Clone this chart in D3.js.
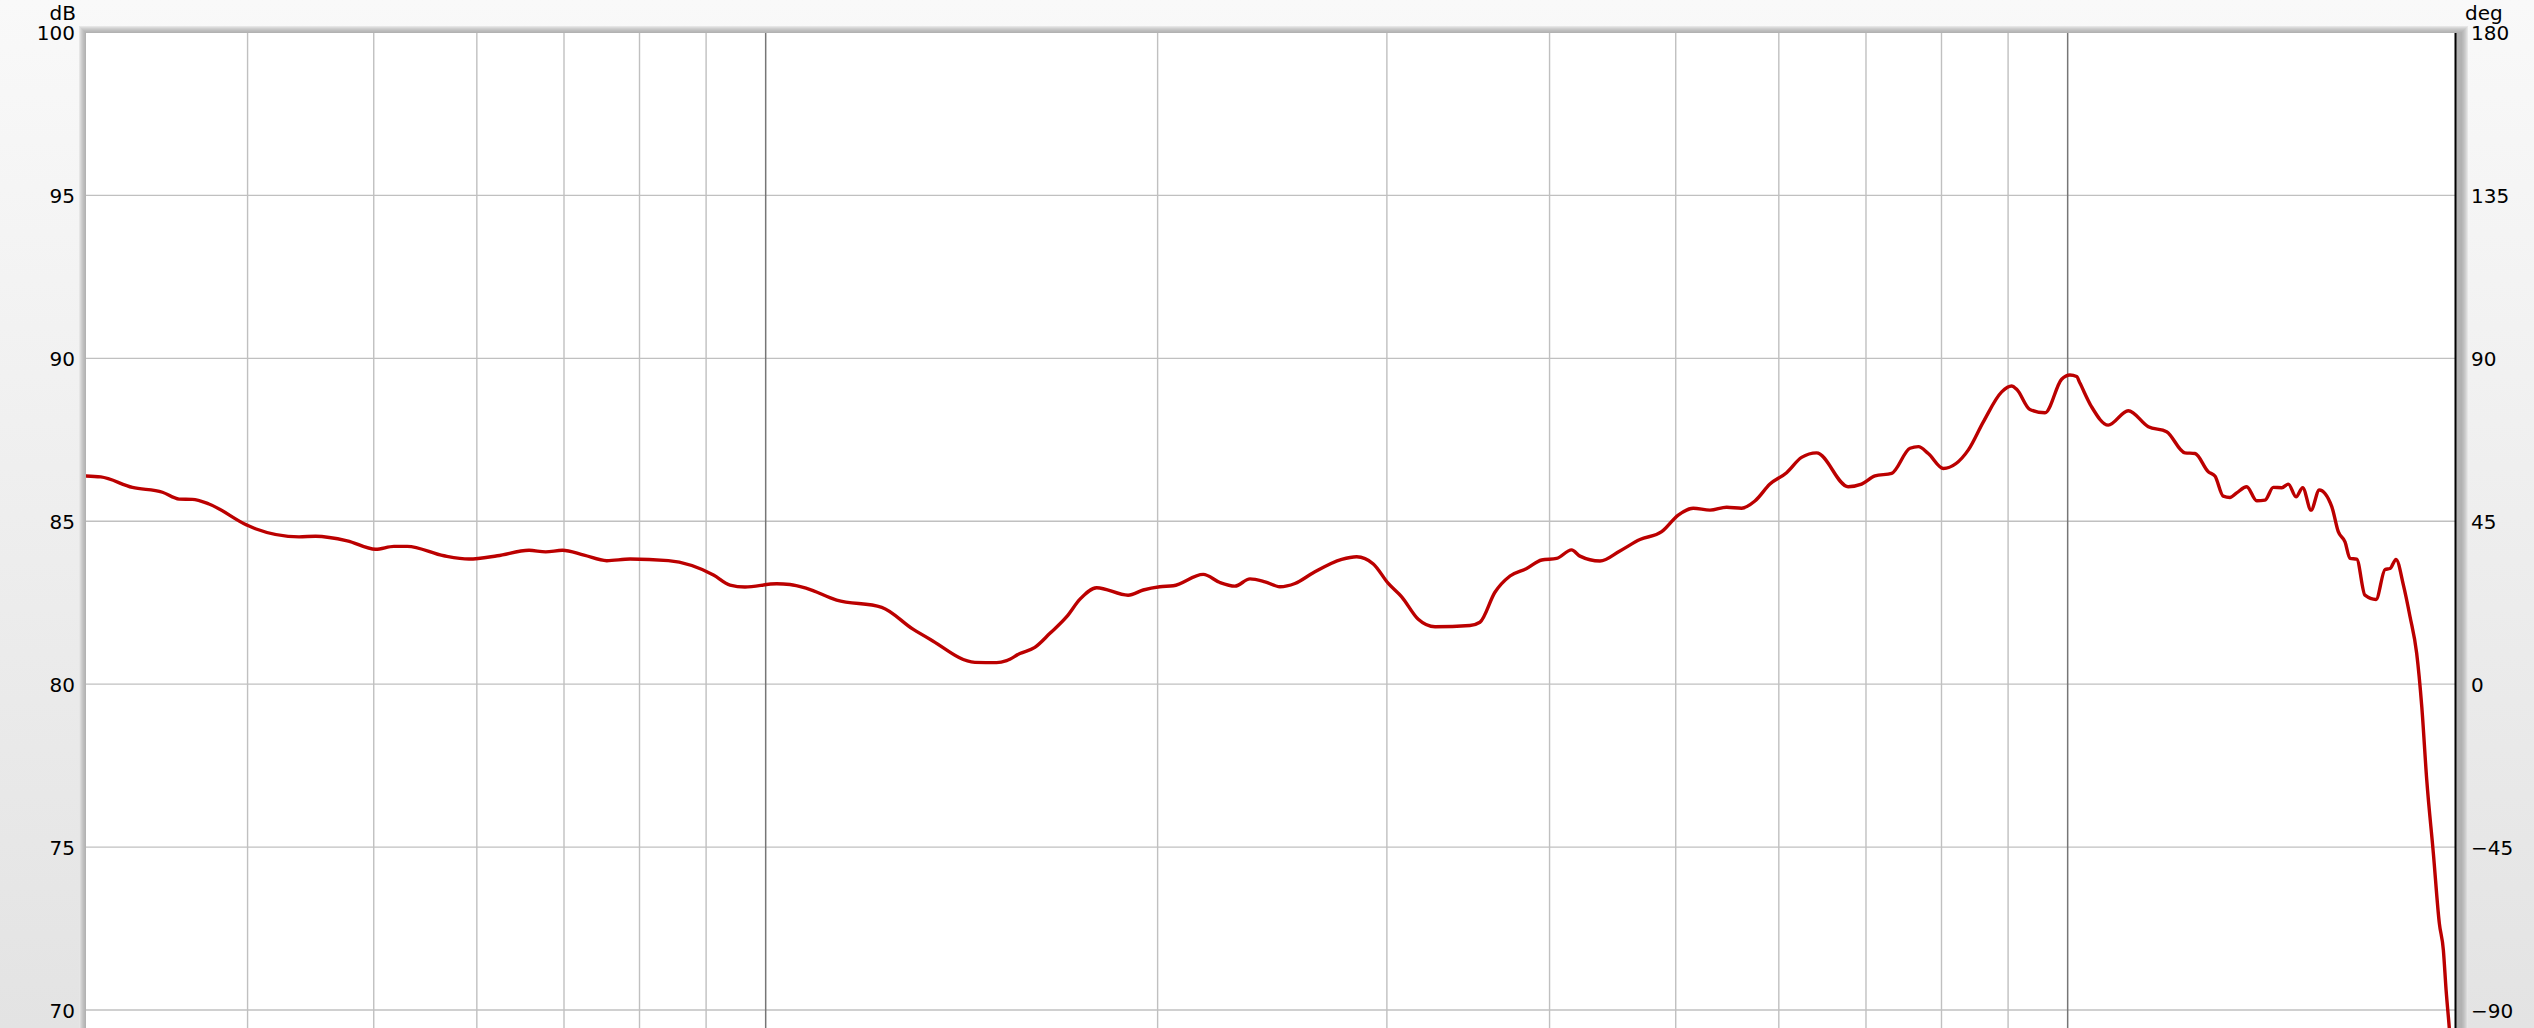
<!DOCTYPE html>
<html><head><meta charset="utf-8">
<script src="https://cdn.jsdelivr.net/npm/d3@7"></script>
<style>
html,body{margin:0;padding:0;overflow:hidden;}
svg{display:block;}
text{font-family:"DejaVu Sans",sans-serif;font-size:20px;fill:#000;}
</style></head>
<body>
<svg id="chart" width="2534" height="1028"></svg>
<script>
// ---- data ----
const freqHz = [300,308.5,326.3,344.1,354.4,362.8,373.6,399.6,405.6,438.1,451.2,477.1,501.7,518.2,530.5,566.1,591.7,622.2,658.0,677.7,698.0,725.2,
755.0,786.8,841.9,911.8,938.9,964.0,1019.6,1043.9,1075.2,1133.7,1227.8,1298.4,1337.1,1447.9,1504.3,1531.2,1567.6,1609.7,1653.2,1703.0,1743.5,
1795.7,1898.3,1949.8,2007.9,2056.1,2168.0,2233.0,2293.0,2355.0,2418.2,2483.1,2549.8,2633.8,2769.6,2843.9,2928.9,3007.5,3079.6,3171.1,3266.7,
3474.6,3536.7,3631.6,3729.9,3841.5,3944.6,4050.4,4159.1,4220.8,4373.1,4530.0,4693.5,4877.5,5022.2,5157.0,5312.5,5471.4,5618.2,5751.7,5906.5,
6083.1,6246.3,6414.1,6783.0,6945.8,7112.8,7325.4,7567.1,7679.4,7815.0,8026.6,8389.5,8614.6,8899.0,9058.1,9138.0,9354.1,9607.2,9894.0,10041,
10160,10219,10433,10744,11131,11533,11912,12305,12525,12823,12975,13167,13324,13484,13725,13971,14176,14387,14604,14773,14976,15154,15379,
15605,15953,16138,16331,16476,16672,16918,17252,17530,17685,17873,18108,18322,18538,18706,18871,19093,19296,19434,19528,19640,19735];
const splDb = [86.39,86.36,86.04,85.89,85.68,85.67,85.53,84.88,84.77,84.52,84.54,84.40,84.14,84.23,84.23,83.94,83.84,83.94,84.11,84.06,84.11,83.96,
83.79,83.84,83.79,83.35,83.04,82.98,83.08,83.06,82.94,82.58,82.36,81.68,81.38,80.67,80.66,80.72,80.94,81.13,81.56,82.07,82.61,
82.96,82.73,82.89,82.99,83.02,83.37,83.12,83.01,83.23,83.14,82.99,83.09,83.42,83.83,83.91,83.69,83.09,82.68,81.99,81.76,
81.80,81.90,82.82,83.32,83.55,83.81,83.86,84.12,83.93,83.78,84.09,84.44,84.68,85.19,85.40,85.34,85.43,85.40,85.62,86.14,
86.49,86.96,87.10,86.06,86.14,86.39,86.47,87.24,87.29,87.08,86.62,87.19,88.05,88.97,89.15,89.05,88.43,88.33,89.36,89.49,
89.44,89.24,88.51,87.95,88.39,87.90,87.75,87.10,87.08,86.52,86.39,85.77,85.73,85.87,86.06,85.63,85.65,86.04,86.03,86.14,85.75,86.03,85.34,
85.96,85.45,84.68,84.37,83.86,83.84,82.73,82.60,83.52,83.55,83.83,83.04,82.07,80.95,79.31,77.06,74.81,72.66,71.84,70.61,69.44,68.31];
const dbTicks = [100,95,90,85,80,75,70];
const degTicks = [180,135,90,45,0,-45,-90];
const minorFreqs = [400,500,600,700,800,900,2000,3000,4000,5000,6000,7000,8000,9000];
const majorFreqs = [1000,10000];

// ---- layout ----
const W = 2534, H = 1028;
const plotL = 86, plotR = 2456, plotT = 33, plotB = 1028;
const svg = d3.select("#chart");
const defs = svg.append("defs");
const bg = defs.append("linearGradient").attr("id","bg").attr("x1",0).attr("y1",0).attr("x2",0).attr("y2",1);
bg.append("stop").attr("offset","0%").attr("stop-color","#f9f9f9");
bg.append("stop").attr("offset","100%").attr("stop-color","#e3e3e3");
svg.append("rect").attr("width",W).attr("height",H).attr("fill","url(#bg)");

// frame layers (outer light -> inner darker)
const frameCols = ["#e6e6e6","#dadada","#cfcfcf","#c6c6c6","#bebebe","#b8b8b8","#b2b2b2"];
frameCols.forEach((c,i)=>{
  svg.append("rect").attr("x",79+i).attr("y",26+i).attr("width",(2468-i)-(79+i)).attr("height",H+20)
    .attr("fill",c);
});
svg.append("rect").attr("x",plotL).attr("y",plotT).attr("width",plotR-plotL).attr("height",plotB-plotT+10).attr("fill","#fff");

const x = d3.scaleLog().domain([300,20000]).range([84.9,2459.6]);
const y = d3.scaleLinear().domain([70,100]).range([1010,32.5]);
const yDeg = d3.scaleLinear().domain([-90,180]).range([1010,32.5]);

defs.append("clipPath").attr("id","clip").append("rect")
  .attr("x",plotL).attr("y",plotT).attr("width",plotR-plotL).attr("height",plotB-plotT+10);

const g = svg.append("g").attr("clip-path","url(#clip)");
// horizontal grid
g.selectAll("line.h").data(dbTicks.filter(d=>d<100)).join("line")
  .attr("x1",plotL).attr("x2",plotR).attr("y1",d=>y(d)).attr("y2",d=>y(d))
  .attr("stroke","#c0c0c0").attr("stroke-width",1.4);
// vertical grid
g.selectAll("line.vm").data(minorFreqs).join("line")
  .attr("x1",d=>x(d)).attr("x2",d=>x(d)).attr("y1",plotT).attr("y2",plotB)
  .attr("stroke","#c0c0c0").attr("stroke-width",1.4);
g.selectAll("line.vM").data(majorFreqs).join("line")
  .attr("x1",d=>x(d)).attr("x2",d=>x(d)).attr("y1",plotT).attr("y2",plotB)
  .attr("stroke","#767676").attr("stroke-width",1.5);

// curve
const pts = freqHz.map((f,i)=>[f,splDb[i]]);
const line = d3.line().x(d=>x(d[0])).y(d=>y(d[1])).curve(d3.curveMonotoneX);
g.append("path").datum(pts).attr("d",line).attr("fill","none")
  .attr("stroke","#bb0000").attr("stroke-width",3.4).attr("stroke-linejoin","round");

// right edge black line
svg.append("line").attr("x1",2455.5).attr("x2",2455.5).attr("y1",plotT).attr("y2",plotB)
  .attr("stroke","#000").attr("stroke-width",2);

// left axis labels
svg.selectAll("text.l").data(dbTicks).join("text")
  .attr("x",75).attr("y",d=>y(d)+7.5).attr("text-anchor","end").text(d=>d);
svg.append("text").attr("x",76).attr("y",20).attr("font-size","19px").attr("text-anchor","end").text("dB");
// right axis labels
svg.selectAll("text.r").data(degTicks).join("text")
  .attr("x",2471).attr("y",d=>yDeg(d)+7.5).attr("text-anchor","start")
  .text(d=>d<0?"\u2212"+Math.abs(d):d);
svg.append("text").attr("x",2465).attr("y",20).attr("font-size","19px").attr("text-anchor","start").text("deg");
</script>
</body></html>
